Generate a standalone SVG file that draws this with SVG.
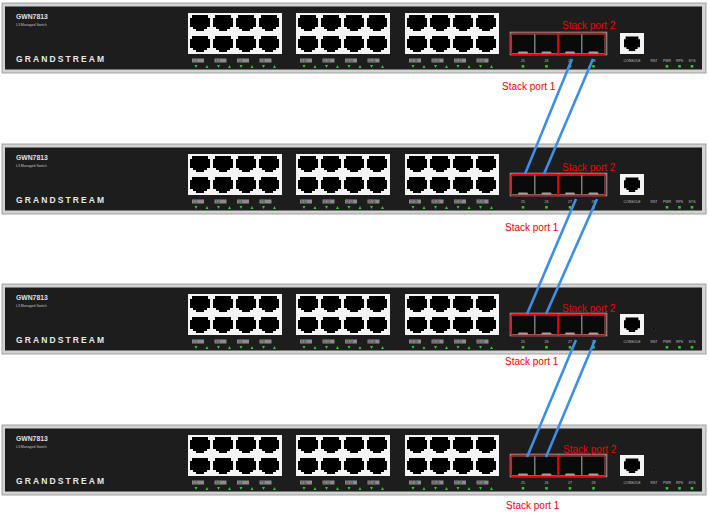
<svg xmlns="http://www.w3.org/2000/svg" xmlns:xlink="http://www.w3.org/1999/xlink" width="709" height="518" viewBox="0 0 709 518">
<style>
.frame{fill:#d2d2d2;stroke:#8f8f8f;stroke-width:0.8}
.body{fill:#1d1d1d}
.blk{fill:#f4f4f4}
.jack{fill:#000}
.lbl{fill:#8c8c8c}
.tiny{font-family:"Liberation Sans",Arial,sans-serif;font-size:3px;fill:#222}
.small{font-family:"Liberation Sans",Arial,sans-serif;font-size:3.5px;fill:#c0c0c0}
.led{fill:#1fd11f}
.sfp{fill:#7a7a7a;stroke:#9c9c9c;stroke-width:0.6}
.slot{fill:#0a0a0a}
.tab{fill:#a0a0a0}
.redbox{fill:none;stroke:#e60000;stroke-width:1.3}
.red{font-family:"Liberation Sans",Arial,sans-serif;font-size:10px;fill:#f00000}
.link{stroke:#3b8fe6;stroke-width:2.6;fill:none}
</style>
<defs>
<path id="rj" class="jack" d="M0,3 H2 V0 H18 V3 H20 V12 H17 V14 H14 V16 H6 V14 H3 V12 H0 Z"/>
<g id="block">
<rect class="blk" x="0" y="0" width="94" height="41"/>
<use xlink:href="#rj" x="2" y="2"/><use xlink:href="#rj" x="25" y="2"/><use xlink:href="#rj" x="48" y="2"/><use xlink:href="#rj" x="71" y="2"/>
<use xlink:href="#rj" x="2" y="23"/><use xlink:href="#rj" x="25" y="23"/><use xlink:href="#rj" x="48" y="23"/><use xlink:href="#rj" x="71" y="23"/>
<rect class="lbl" x="4" y="45.5" width="12" height="4"/><rect class="lbl" x="26.5" y="45.5" width="12" height="4"/><rect class="lbl" x="49" y="45.5" width="12" height="4"/><rect class="lbl" x="71.5" y="45.5" width="12" height="4"/>
<path class="led" d="M6.5,52 h3 l-1.5,3 z M17.5,55 h3 l-1.5,-3 z M29,52 h3 l-1.5,3 z M40,55 h3 l-1.5,-3 z M51.5,52 h3 l-1.5,3 z M62.5,55 h3 l-1.5,-3 z M74,52 h3 l-1.5,3 z M85,55 h3 l-1.5,-3 z"/>
</g>
<g id="sw">
<rect class="frame" x="2" y="3" width="704" height="70"/>
<rect class="body" x="5" y="6.5" width="697" height="63"/>
<text x="16" y="19" font-family="Liberation Sans, Arial, sans-serif" font-size="6.8" font-weight="bold" fill="#e0e0e0">GWN7813</text>
<text x="16" y="26" class="small" fill="#bbb">L3 Managed Switch</text>
<text x="16" y="61.5" font-family="Liberation Sans, Arial, sans-serif" font-size="8.5" font-weight="bold" fill="#e8e8e8" textLength="88" lengthAdjust="spacing">GRANDSTREAM</text>
<use xlink:href="#block" x="188" y="13"/>
<use xlink:href="#block" x="296" y="13"/>
<use xlink:href="#block" x="405" y="13"/>
<g class="tiny">
<text x="193" y="61.7">1  2</text><text x="215.5" y="61.7">3  4</text><text x="238" y="61.7">5  6</text><text x="260.5" y="61.7">7  8</text>
<text x="301" y="61.7">9 10</text><text x="323" y="61.7">11 12</text><text x="345.5" y="61.7">13 14</text><text x="368" y="61.7">15 16</text>
<text x="410" y="61.7">17 18</text><text x="432" y="61.7">19 20</text><text x="454.5" y="61.7">21 22</text><text x="477" y="61.7">23 24</text>
</g>
<rect class="sfp" x="510" y="32" width="97" height="23"/>
<rect class="slot" x="512" y="34.5" width="22" height="18.5"/>
<rect class="slot" x="535.5" y="34.5" width="22" height="18.5"/>
<rect class="slot" x="559" y="34.5" width="22" height="18.5"/>
<rect class="slot" x="582.5" y="34.5" width="22" height="18.5"/>
<rect class="tab" x="518" y="51.5" width="10" height="2.8" rx="1.4"/>
<rect class="tab" x="541.5" y="51.5" width="10" height="2.8" rx="1.4"/>
<rect class="tab" x="565" y="51.5" width="10" height="2.8" rx="1.4"/>
<rect class="tab" x="588.5" y="51.5" width="10" height="2.8" rx="1.4"/>
<g class="small" text-anchor="middle">
<text x="523" y="61.5">25</text><text x="546.5" y="61.5">26</text><text x="570" y="61.5">27</text><text x="593.5" y="61.5">28</text>
<text x="632" y="62">CONSOLE</text>
<text x="654" y="62">RST</text><text x="667" y="62">PWR</text><text x="679.5" y="62">RPS</text><text x="692" y="62">SYS</text>
</g>
<rect class="led" x="521.7" y="65" width="2.6" height="2.6"/>
<rect class="led" x="545.2" y="65" width="2.6" height="2.6"/>
<rect class="led" x="568.7" y="65" width="2.6" height="2.6"/>
<rect class="led" x="592.2" y="65" width="2.6" height="2.6"/>
<rect class="led" x="665.7" y="65" width="2.6" height="2.6"/>
<rect class="led" x="678.2" y="65" width="2.6" height="2.6"/>
<rect class="led" x="690.7" y="65" width="2.6" height="2.6"/>
<rect x="620" y="33" width="24" height="21" fill="#f4f4f4"/>
<use xlink:href="#rj" transform="translate(624,36.5) scale(0.8,0.9)"/>
<circle cx="654" cy="48" r="1.4" fill="#000" stroke="#444" stroke-width="0.5"/>
</g>
</defs>
<rect width="709" height="518" fill="#fff"/>
<g id="switch1">
<use xlink:href="#sw"/>
<rect class="redbox" x="511" y="33.5" width="47.5" height="21" rx="2.5"/>
<rect class="redbox" x="558.5" y="33.5" width="47" height="21" rx="2.5"/>
<text class="red" x="562" y="29">Stack port 2</text>
<text class="red" x="502" y="90">Stack port 1</text>
</g>
<g id="switch2" transform="translate(0,141)">
<use xlink:href="#sw"/>
<rect class="redbox" x="511" y="33.5" width="47.5" height="21" rx="2.5"/>
<rect class="redbox" x="558.5" y="33.5" width="47" height="21" rx="2.5"/>
<text class="red" x="562" y="30">Stack port 2</text>
<text class="red" x="505" y="90">Stack port 1</text>
</g>
<g id="switch3" transform="translate(0,281)">
<use xlink:href="#sw"/>
<rect class="redbox" x="511" y="33.5" width="47.5" height="21" rx="2.5"/>
<rect class="redbox" x="558.5" y="33.5" width="47" height="21" rx="2.5"/>
<text class="red" x="562" y="31">Stack port 2</text>
<text class="red" x="505" y="84">Stack port 1</text>
</g>
<g id="switch4" transform="translate(0,422)">
<use xlink:href="#sw"/>
<rect class="redbox" x="511" y="33.5" width="47.5" height="21" rx="2.5"/>
<rect class="redbox" x="558.5" y="33.5" width="47" height="21" rx="2.5"/>
<text class="red" x="563" y="31">Stack port 2</text>
<text class="red" x="506" y="87">Stack port 1</text>
</g>
<g id="connectors">
<line class="link" x1="572" y1="59" x2="525" y2="174"/>
<line class="link" x1="593" y1="59" x2="544" y2="174"/>
<line class="link" x1="576" y1="199" x2="527" y2="314"/>
<line class="link" x1="597" y1="199" x2="546" y2="314"/>
<line class="link" x1="576" y1="340" x2="527" y2="457"/>
<line class="link" x1="595" y1="340" x2="546" y2="457"/>
</g>
</svg>
